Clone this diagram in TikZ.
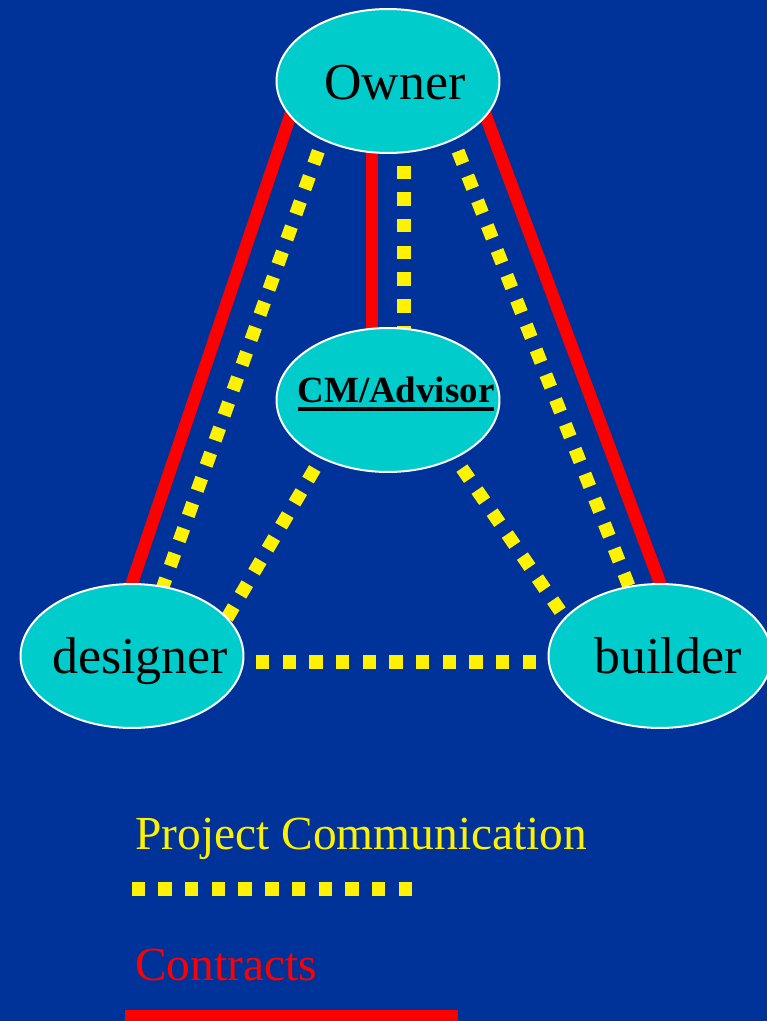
\documentclass[tikz,border=0pt]{standalone}
\usepackage{fontspec}
\setmainfont{Liberation Serif}
\usetikzlibrary{shapes.geometric,backgrounds}
\definecolor{slide}{RGB}{0,51,153}
\definecolor{partyfill}{RGB}{0,204,204}
\newcommand{\ulined}[1]{\setbox0\hbox{#1}\rlap{\rule[-4.9pt]{\wd0}{1.9pt}}\box0}
\tikzset{
	party/.style={ellipse, draw=white, line width=0.04cm, fill=partyfill, minimum width=4.46cm, minimum height=2.88cm, inner sep=0pt},
	partyname/.style={anchor=base, inner sep=0pt, font=\fontsize{29.5}{32}\selectfont},
	legendtext/.style={anchor=base west, inner sep=0pt, font=\fontsize{27}{30}\selectfont},
	talk/.style={draw=yellow, line width=0.265cm, dash pattern=on 0.267cm off 0.267cm},
	contract/.style={draw=red, line width=0.25cm},
	tuck/.style={shorten <=-0.3cm, shorten >=-0.3cm}
}
\begin{document}
\begin{tikzpicture}[x=0.02cm, y=-0.02cm]
		\useasboundingbox (0,0) rectangle (767,1021);
		\node[party] (O) at (388,81) {};
		\node[party] (M) at (388,400) {};
		\node[party] (D) at (132,656) {};
		\node[party] (B) at (660,656) {};
		\node[partyname] (Ot) at (395,99) {Owner};
		\node[partyname, font=\fontsize{21}{24}\selectfont\bfseries] (Mt) at (396,402) {\ulined{CM/Advisor}};
		\node[partyname] (Dt) at (140,673) {designer};
		\node[partyname] (Bt) at (668,673) {builder};
		
		\begin{scope}[on background layer]
		\fill[slide] (0,0) rectangle (767,1021);
		\path (O.200) edge[contract, tuck] (D.90);
		\path (O.340) edge[contract, tuck] (B.90);
		\path ([xshift=-0.32cm]O.south) edge[contract, tuck] ([xshift=-0.32cm]M.north);
		\path (O.222) edge[talk, tuck] (D.66);
		\path (O.318) edge[talk, tuck] (B.114);
		\path ([xshift=0.32cm]O.south) edge[talk, tuck] ([xshift=0.32cm]M.north);
		\path (M.221) edge[talk, tuck] (D.22);
		\path (M.319) edge[talk, tuck] (B.158);
		\path (D.357) edge[talk, tuck] (B.183);
		\end{scope}
		
		\node[legendtext, text=yellow] (Lt) at (135,849) {Project Communication};
		\coordinate (L1) at (131.7,889);
		\coordinate (L2) at (411.7,889);
		\path (L1) edge[talk] (L2);
		\node[legendtext, text=red] (Ct) at (135,980) {Contracts};
		\coordinate (C1) at (125,1016.5);
		\coordinate (C2) at (458,1016.5);
		\path (C1) edge[contract] (C2);
		\end{tikzpicture}
\end{document}
